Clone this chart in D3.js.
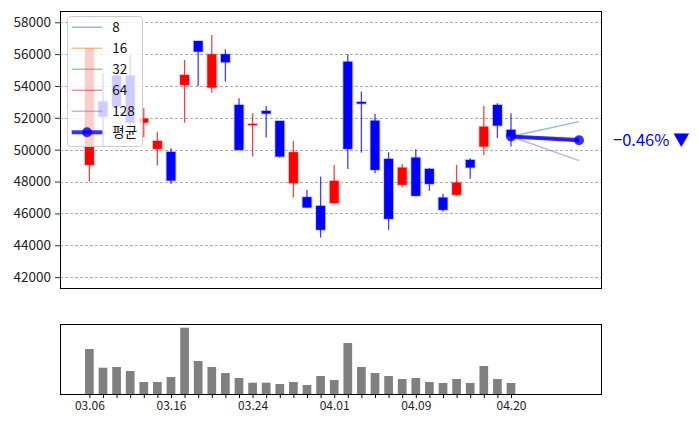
<!DOCTYPE html>
<html><head><meta charset="utf-8">
<script src="https://cdn.jsdelivr.net/npm/d3@7/dist/d3.min.js"></script>
<style>
body{margin:0;background:#fff}
svg{display:block}
text{font-family:"Noto Sans CJK KR","Noto Sans",sans-serif}
</style>
</head><body>
<svg id="c" width="699" height="428"></svg>
<script>
// ---- data ----
const openP  = [49046, 53018, 54650, 54649, 51700, 50050, 49862, 54066, 56826, 53896, 55992, 52811, 51556, 52434, 51807, 47898, 47020, 46474, 46643, 55527, 52999, 51826, 49423, 47792, 49504, 48795, 46995, 47164, 49360, 50195, 52811, 51250];
const highP  = [56368, 54800, 54900, 55948, 52604, 51098, 50094, 55634, 56826, 57203, 56305, 53231, 52290, 52748, 51807, 50552, 47478, 48312, 49046, 55992, 53645, 52246, 49843, 49109, 50031, 48839, 47227, 49046, 49467, 52748, 52917, 52290];
const lowP   = [48000, 50195, 52300, 50508, 50784, 49002, 47854, 51700, 53984, 53582, 54273, 49987, 49567, 50759, 49504, 46995, 46367, 44485, 46600, 48795, 49818, 48526, 44968, 47622, 47101, 47415, 46116, 47101, 48168, 49674, 50722, 50195];
const closeP = [56368, 52077, 52700, 51700, 51951, 50552, 48061, 54693, 56155, 55992, 55490, 49987, 51619, 52265, 49567, 49843, 46367, 44968, 48043, 50050, 52892, 48733, 45658, 48877, 47101, 47854, 46223, 47936, 48877, 51449, 51512, 50830];
const volume = [450000, 263000, 270000, 230000, 120000, 120000, 170000, 663000, 330000, 270000, 210000, 160000, 113000, 113000, 100000, 120000, 90000, 180000, 140000, 510000, 270000, 210000, 180000, 150000, 160000, 120000, 110000, 150000, 110000, 280000, 150000, 110000];
const tickIndex  = [0, 6, 12, 18, 24, 31];
const tickLabels = ['03.06', '03.16', '03.24', '04.01', '04.09', '04.20'];
const yTicks = [42000, 44000, 46000, 48000, 50000, 52000, 54000, 56000, 58000];
const forecastSteps = 5;
const forecastNames  = ['8', '16', '32', '64', '128'];
const forecastEnd    = [51763, 50750, 50600, 50550, 49316];
const forecastColors = ['#1f77b4', '#ff7f0e', '#2ca02c', '#d62728', '#9467bd'];
const avgName = '평균';

// ---- layout ----
const svg = d3.select('#c');
const L = 60, R = 602, T = 11, B = 288.5;
const VT = 324, VB = 394;
const n = closeP.length;
const x = d3.scaleLinear().domain([-2.16, 37.69]).range([L, R]);
const y = d3.scaleLinear().domain([41285, 58708]).range([B, T]);
const yv = d3.scaleLinear().domain([0, 700000]).range([VB, VT]);
const UP = '#ff0000', DN = '#0000ff';

// grid
svg.append('g').selectAll('line').data(yTicks).join('line')
  .attr('x1', L).attr('x2', R)
  .attr('y1', d => Math.round(y(d)) + 0.5).attr('y2', d => Math.round(y(d)) + 0.5)
  .attr('stroke', '#999').attr('stroke-width', 0.8).attr('stroke-dasharray', '3,2');

// y axis
const ya = svg.append('g').attr('transform', `translate(${L},0)`)
  .call(d3.axisLeft(y).tickValues(yTicks).tickFormat(d3.format('d')).tickSize(5).tickPadding(4));
ya.select('.domain').remove();
ya.selectAll('text').attr('font-size', 13.5).attr('fill', '#222');
ya.selectAll('line').attr('stroke', '#333');

// candles
const idx = d3.range(n);
const cg = svg.append('g');
cg.selectAll('line').data(idx).join('line')
  .attr('x1', i => x(i)).attr('x2', i => x(i))
  .attr('y1', i => y(highP[i])).attr('y2', i => y(lowP[i]))
  .attr('stroke', i => closeP[i] >= openP[i] ? UP : DN)
  .attr('stroke-opacity', 0.75).attr('stroke-width', 1.3);
const bw = 9;
cg.selectAll('rect').data(idx).join('rect')
  .attr('x', i => x(i) - bw / 2).attr('width', bw)
  .attr('y', i => y(Math.max(openP[i], closeP[i])))
  .attr('height', i => Math.max(1.2, Math.abs(y(openP[i]) - y(closeP[i]))))
  .attr('fill', i => closeP[i] >= openP[i] ? UP : DN)
  .attr('stroke', i => closeP[i] >= openP[i] ? UP : DN)
  .attr('stroke-opacity', 0.2).attr('stroke-width', 2);

// forecasts
const x0 = x(n - 1), x1 = x(n - 1 + forecastSteps), last = closeP[n - 1];
const fg = svg.append('g');
forecastEnd.forEach((v, k) => {
  fg.append('line').attr('x1', x0).attr('y1', y(last)).attr('x2', x1).attr('y2', y(v))
    .attr('stroke', forecastColors[k]).attr('stroke-opacity', 0.5).attr('stroke-width', 1.5);
});
const avg = d3.mean(forecastEnd);
fg.append('line').attr('x1', x0).attr('y1', y(last)).attr('x2', x1).attr('y2', y(avg))
  .attr('stroke', '#0000ff').attr('stroke-opacity', 0.8).attr('stroke-width', 4);
[[x0, last], [x1, avg]].forEach(p => {
  fg.append('circle').attr('cx', p[0]).attr('cy', y(p[1])).attr('r', 5)
    .attr('fill', '#0000ff').attr('fill-opacity', 0.8);
});

// change label
const pct = (avg / last - 1) * 100;
svg.append('text').attr('x', 613).attr('y', 146).attr('font-size', 16.5).attr('fill', '#0000ff')
  .text((pct < 0 ? '\u2212' : '+') + Math.abs(pct).toFixed(2) + '% ' + (pct < 0 ? '\u25BC' : '\u25B2'));

// main frame
svg.append('rect').attr('x', L + 0.5).attr('y', T + 0.5).attr('width', R - L - 1).attr('height', B - T - 0.5)
  .attr('fill', 'none').attr('stroke', '#000').attr('stroke-width', 1);

// legend
const lg = svg.append('g');
lg.append('rect').attr('x', 67.5).attr('y', 16.5).attr('width', 75).attr('height', 130).attr('rx', 3)
  .attr('fill', '#fff').attr('fill-opacity', 0.8).attr('stroke', '#ccc');
const names = forecastNames.concat([avgName]);
names.forEach((nm, k) => {
  const yy = 27.3 + k * 21;
  if (k < forecastNames.length) {
    lg.append('line').attr('x1', 71.7).attr('x2', 102.3).attr('y1', yy).attr('y2', yy)
      .attr('stroke', forecastColors[k]).attr('stroke-opacity', 0.5).attr('stroke-width', 1.5);
  } else {
    lg.append('line').attr('x1', 71.7).attr('x2', 102.3).attr('y1', yy).attr('y2', yy)
      .attr('stroke', '#0000ff').attr('stroke-opacity', 0.8).attr('stroke-width', 4);
    lg.append('circle').attr('cx', 87).attr('cy', yy).attr('r', 5).attr('fill', '#0000ff').attr('fill-opacity', 0.8);
  }
  lg.append('text').attr('x', 112.3).attr('y', yy + 4.8).attr('font-size', 13.5).attr('fill', '#111').text(nm);
});

// volume
svg.append('g').selectAll('rect').data(idx).join('rect')
  .attr('x', i => x(i) - 4.35).attr('width', 8.7)
  .attr('y', i => yv(volume[i])).attr('height', i => VB - yv(volume[i]))
  .attr('fill', '#808080');
svg.append('rect').attr('x', L + 0.5).attr('y', VT + 0.5).attr('width', R - L - 1).attr('height', VB - VT)
  .attr('fill', 'none').attr('stroke', '#000').attr('stroke-width', 1);
const xa = svg.append('g').attr('transform', `translate(0,${VB})`)
  .call(d3.axisBottom(x).tickValues(idx).tickSize(4).tickPadding(3)
    .tickFormat(i => { const k = tickIndex.indexOf(i); return k >= 0 ? tickLabels[k] : ''; }));
xa.select('.domain').remove();
xa.selectAll('text').attr('font-size', 12).attr('fill', '#222');
xa.selectAll('line').attr('stroke', '#000');
</script>
</body></html>
